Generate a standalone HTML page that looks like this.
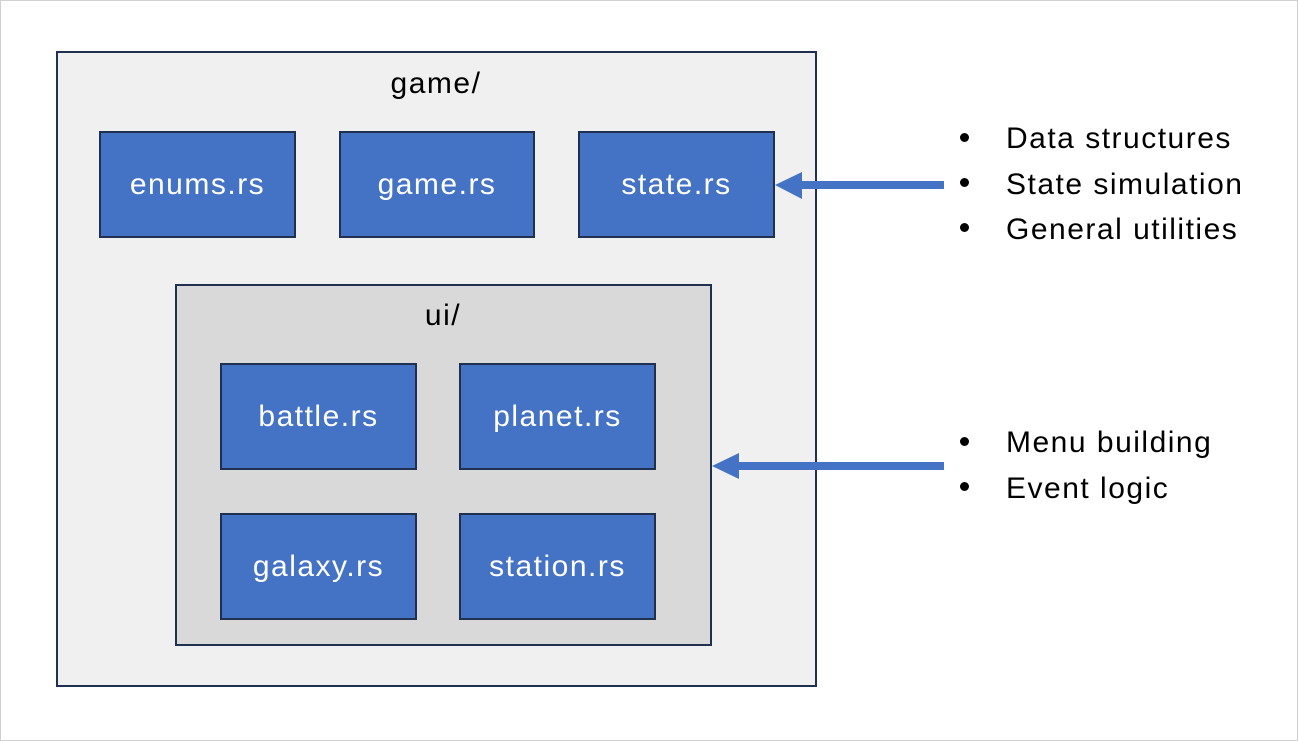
<!DOCTYPE html>
<html><head><style>
body{margin:0;width:1298px;height:741px;background:#fff;position:relative;overflow:hidden;font-family:"Liberation Sans",sans-serif}
.frame{position:absolute;left:0;top:0;width:1296px;height:739px;border:1px solid #d0d0d0}
.b{position:absolute;box-sizing:border-box;border:2px solid #1f3050}
.f{background:#4472c4;color:#fff;font-size:30px;letter-spacing:1.5px;display:flex;align-items:center;justify-content:center}
.lbl{position:absolute;font-size:30px;letter-spacing:1.5px;color:#000;transform:translateX(-50%)}
.t{position:absolute;font-size:30px;letter-spacing:1.5px;color:#000;line-height:1}
.d{position:absolute;width:9px;height:9px;border-radius:50%;background:#000}
</style></head><body>
<div class="frame"></div>
<div class="b" style="left:56px;top:51px;width:761px;height:636px;background:#f0f0f0"></div>
<div class="lbl" style="left:436px;top:67px">game/</div>
<div class="b f" style="left:99px;top:131px;width:197px;height:107px">enums.rs</div>
<div class="b f" style="left:339px;top:131px;width:196px;height:107px">game.rs</div>
<div class="b f" style="left:578px;top:131px;width:197px;height:107px">state.rs</div>
<div class="b" style="left:175px;top:284px;width:537px;height:362px;background:#d9d9d9"></div>
<div class="lbl" style="left:443px;top:299px">ui/</div>
<div class="b f" style="left:220px;top:363px;width:197px;height:107px">battle.rs</div>
<div class="b f" style="left:459px;top:363px;width:197px;height:107px">planet.rs</div>
<div class="b f" style="left:220px;top:513px;width:197px;height:107px">galaxy.rs</div>
<div class="b f" style="left:459px;top:513px;width:197px;height:107px">station.rs</div>
<svg style="position:absolute;left:0;top:0" width="1298" height="741">
<line x1="944" y1="185" x2="798" y2="185" stroke="#4472c4" stroke-width="8"/>
<polygon points="775,185 802,172 802,199" fill="#4472c4"/>
<line x1="944" y1="466" x2="736" y2="466" stroke="#4472c4" stroke-width="8"/>
<polygon points="712,466 739,453 739,479" fill="#4472c4"/>
</svg>
<div class="d" style="left:960px;top:133px"></div>
<div class="d" style="left:960px;top:178px"></div>
<div class="d" style="left:960px;top:223px"></div>
<div class="d" style="left:960px;top:437px"></div>
<div class="d" style="left:960px;top:482px"></div>
<div class="t" style="left:1006px;top:124px">Data structures</div>
<div class="t" style="left:1006px;top:170px">State simulation</div>
<div class="t" style="left:1006px;top:215px">General utilities</div>
<div class="t" style="left:1006px;top:428px">Menu building</div>
<div class="t" style="left:1006px;top:474px">Event logic</div>
</body></html>
